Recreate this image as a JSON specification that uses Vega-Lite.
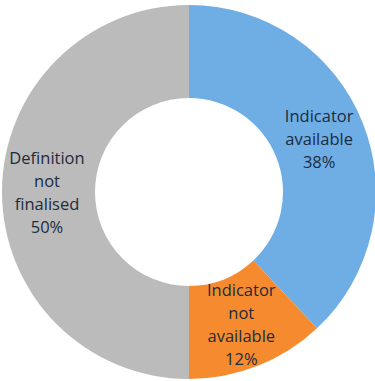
{
  "$schema": "https://vega.github.io/schema/vega-lite/v6.json",
  "width": 378,
  "height": 384,
  "padding": 0,
  "autosize": "none",
  "background": "white",
  "view": {"stroke": null},
  "data": {
    "values": [
      {"status": "Indicator available", "label": "Indicator\navailable\n38%", "lines": 3, "share": 38, "rank": 1},
      {"status": "Indicator not available", "label": "Indicator\nnot\navailable\n12%", "lines": 4, "share": 12, "rank": 2},
      {"status": "Definition not finalised", "label": "Definition\nnot\nfinalised\n50%", "lines": 4, "share": 50, "rank": 3}
    ]
  },
  "encoding": {
    "theta": {"field": "share", "type": "quantitative", "stack": true},
    "order": {"field": "rank", "type": "ordinal"}
  },
  "layer": [
    {
      "mark": {"type": "arc", "innerRadius": 94, "outerRadius": 187},
      "encoding": {
        "color": {
          "field": "status",
          "type": "nominal",
          "scale": {
            "domain": ["Indicator available", "Indicator not available", "Definition not finalised"],
            "range": ["#6FAEE4", "#F58B2E", "#BBBBBB"]
          },
          "legend": null
        }
      }
    },
    {
      "mark": {
        "type": "text",
        "radius": 140,
        "dy": -23,
        "font": "Open Sans",
        "fontSize": 16.5,
        "lineHeight": 23,
        "lineBreak": "\n",
        "align": "center",
        "baseline": "middle",
        "color": "#1C2B3D"
      },
      "encoding": {
        "text": {"condition": {"test": "datum.lines == 3", "field": "label"}, "value": ""}
      }
    },
    {
      "mark": {
        "type": "text",
        "radius": 142,
        "dy": -33,
        "font": "Open Sans",
        "fontSize": 16.5,
        "lineHeight": 23,
        "lineBreak": "\n",
        "align": "center",
        "baseline": "middle",
        "color": "#1C2B3D"
      },
      "encoding": {
        "text": {"condition": {"test": "datum.lines == 4", "field": "label"}, "value": ""}
      }
    },
    {
      "data": {"values": [{}]},
      "mark": {"type": "rule", "y": 4.5, "x": 0, "x2": 375, "color": "#8EAADB", "strokeWidth": 3},
      "encoding": {}
    }
  ]
}
